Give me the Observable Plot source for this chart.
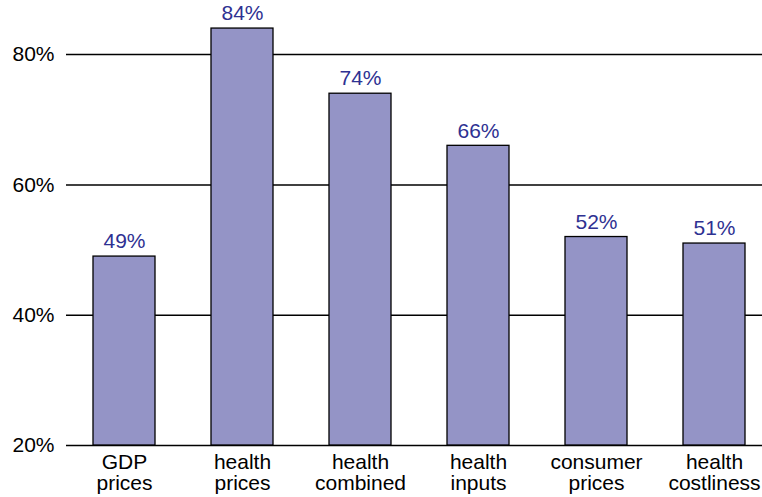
<!DOCTYPE html>
<html>
<head>
<meta charset="utf-8">
<script src="https://cdn.jsdelivr.net/npm/d3@7"></script>
<script src="https://cdn.jsdelivr.net/npm/@observablehq/plot@0.6"></script>
<style>
  html, body { margin: 0; padding: 0; background: #fff; }
  #chart svg { display: block; }
</style>
</head>
<body>
<div id="chart"></div>
<script>
// Categories (two-line labels) and their percentage values
const categories = ["GDP\nprices", "health\nprices", "health\ncombined", "health\ninputs", "consumer\nprices", "health\ncostliness"];
const values = [49, 84, 74, 66, 52, 51];
const yTicks = [20, 40, 60, 80];

const data = categories.map((c, i) => ({category: c, value: values[i]}));

const chart = Plot.plot({
  width: 762,
  height: 497,
  marginLeft: 66,
  marginRight: 0,
  marginTop: 2,
  marginBottom: 52,
  style: {fontFamily: "'Liberation Sans', Arial, sans-serif", background: "#fff"},
  x: {domain: categories, range: [65, 773], paddingInner: 0.475, paddingOuter: 0.2375, label: null},
  y: {domain: [20, 88], label: null},
  marks: [
    Plot.ruleY(yTicks, {stroke: "#000", strokeWidth: 1.5}),
    Plot.barY(data, {x: "category", y1: 20, y2: "value", fill: "#9494c6", stroke: "#000", strokeWidth: 1.3}),
    Plot.text(data, {x: "category", y: "value", text: d => d.value + "%", dy: -15, fill: "#2e3192", fontSize: 21}),
    Plot.axisY({ticks: yTicks, tickFormat: d => d + "%", tickSize: 0, tickPadding: 12, fontSize: 21, fill: "#000", label: null}),
    Plot.axisX({tickSize: 0, tickPadding: 9, fontSize: 21, fill: "#000", lineHeight: 1.0, label: null})
  ]
});

document.getElementById("chart").appendChild(chart);
</script>
</body>
</html>
